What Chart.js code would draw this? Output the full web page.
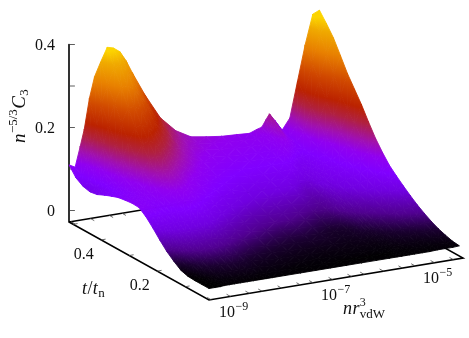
<!DOCTYPE html>
<html>
<head>
<meta charset="utf-8">
<script src="https://cdn.jsdelivr.net/npm/chart.js@4"></script>
<style>
  html, body { margin: 0; padding: 0; background: #fff; }
  canvas { display: block; }
</style>
</head>
<body>
<canvas id="myChart" width="469" height="338"></canvas>
<script>
// values
const T_ROWS = [0.515, 0.49, 0.465, 0.44, 0.415, 0.39, 0.365, 0.34, 0.315, 0.29, 0.265,
  0.24, 0.215, 0.19, 0.165, 0.14, 0.115, 0.09, 0.065, 0.04, 0.015];
const LOG_N = [-9.04, -8.92, -8.82, -8.74, -8.64, -8.54, -8.42, -8.29, -8.17, -8.04, -7.92, -7.8, -7.55, -7.25, -6.95, -6.65,
  -6.35, -6.05, -5.75, -5.5, -5.35, -5.26, -5.18, -5.11, -5.01, -4.86, -4.71, -4.56, -4.41, -4.26, -4.13];
const C3 = [
  [.110, .102, .150, .190, .262, .312, .345, .378, .374, .362, .338, .307, .248, .187, .150, .129, .123, .118, .116, .114, .121, .124, .140, .153, .136, .109, .135, .220, .305, .376, .383],
  [.088, .092, .118, .150, .200, .255, .300, .338, .340, .325, .300, .278, .222, .170, .140, .123, .117, .113, .111, .111, .113, .117, .127, .138, .122, .103, .128, .198, .270, .338, .360],
  [.077, .085, .102, .125, .165, .215, .265, .300, .302, .292, .272, .252, .200, .155, .130, .118, .112, .108, .106, .106, .108, .112, .118, .124, .110, .098, .122, .178, .240, .300, .335],
  [.073, .080, .094, .110, .140, .180, .225, .260, .262, .252, .235, .218, .178, .142, .120, .110, .105, .102, .100, .100, .104, .106, .106, .104, .096, .094, .110, .150, .200, .258, .302],
  [.076, .082, .092, .104, .125, .152, .190, .222, .226, .218, .204, .190, .158, .130, .112, .104, .099, .097, .095, .096, .100, .098, .092, .086, .084, .090, .100, .126, .165, .220, .268],
  [.084, .086, .092, .100, .114, .132, .162, .190, .196, .190, .178, .166, .142, .118, .104, .096, .092, .090, .089, .090, .086, .080, .078, .078, .081, .087, .094, .110, .142, .190, .240],
  [.091, .091, .094, .099, .108, .118, .140, .163, .170, .166, .156, .146, .126, .108, .096, .089, .085, .083, .082, .083, .076, .073, .074, .076, .080, .085, .090, .101, .125, .165, .212],
  [.097, .097, .098, .100, .105, .110, .124, .142, .148, .145, .137, .128, .112, .098, .088, .081, .077, .076, .076, .067, .064, .067, .071, .073, .077, .082, .087, .095, .112, .143, .180],
  [.100, .100, .100, .101, .103, .106, .114, .125, .130, .127, .122, .115, .102, .089, .080, .073, .069, .069, .066, .054, .058, .064, .068, .071, .074, .079, .084, .090, .100, .124, .150],
  [.102, .101, .100, .099, .099, .101, .105, .112, .115, .113, .108, .102, .091, .079, .070, .064, .060, .058, .054, .046, .050, .057, .062, .064, .068, .073, .078, .084, .091, .106, .125],
  [.101, .100, .098, .096, .095, .095, .097, .100, .101, .099, .095, .089, .079, .068, .060, .054, .051, .048, .042, .038, .044, .050, .055, .058, .062, .067, .072, .077, .083, .093, .103],
  [.088, .088, .088, .087, .086, .086, .087, .088, .088, .086, .082, .077, .067, .057, .049, .044, .042, .037, .032, .033, .040, .045, .047, .050, .053, .058, .063, .068, .073, .080, .087],
  [.070, .072, .074, .075, .075, .075, .075, .074, .073, .071, .068, .063, .055, .046, .039, .035, .033, .029, .024, .026, .032, .036, .038, .041, .044, .048, .053, .058, .062, .067, .072],
  [.050, .053, .057, .059, .060, .061, .061, .060, .059, .057, .054, .050, .043, .036, .030, .026, .025, .021, .017, .019, .024, .028, .030, .032, .035, .039, .043, .047, .051, .055, .058],
  [.032, .036, .041, .044, .046, .047, .047, .046, .045, .043, .041, .038, .032, .027, .022, .019, .018, .015, .012, .013, .017, .021, .022, .024, .026, .030, .033, .037, .040, .043, .045],
  [.018, .022, .027, .030, .032, .034, .035, .035, .034, .032, .030, .028, .023, .019, .016, .014, .013, .012, .010, .011, .013, .014, .015, .017, .019, .022, .025, .028, .030, .032, .034],
  [.006, .011, .016, .019, .021, .023, .024, .024, .024, .023, .021, .019, .016, .013, .011, .009, .008, .008, .007, .008, .008, .009, .010, .011, .013, .015, .017, .019, .021, .023, .024],
  [.001, .004, .008, .011, .013, .014, .015, .016, .016, .015, .014, .012, .010, .008, .007, .006, .005, .005, .005, .005, .005, .006, .006, .007, .008, .010, .011, .012, .014, .015, .016],
  [.000, .001, .003, .005, .007, .008, .009, .009, .009, .009, .008, .007, .006, .005, .004, .003, .003, .003, .003, .003, .003, .003, .004, .004, .005, .006, .006, .007, .008, .009, .010],
  [.000, .000, .001, .002, .003, .003, .004, .004, .004, .004, .003, .003, .003, .002, .002, .002, .001, .001, .001, .001, .001, .002, .002, .002, .002, .003, .003, .003, .004, .004, .005],
  [.000, .000, .000, .001, .001, .001, .001, .001, .001, .001, .001, .001, .001, .001, .001, .001, .001, .001, .001, .001, .001, .001, .001, .001, .001, .001, .001, .002, .002, .002, .003],
];
const Z_TICKS = [0, 0.1, 0.2, 0.3, 0.4];
const T_TICKS = [0.1, 0.2, 0.3, 0.4, 0.5];
const N_TICKS = [-9, -8.62, -8.25, -8, -7.62, -7.25, -7, -6.62, -6.25, -6, -5.62, -5.25, -5, -4.62, -4.25];

const PALETTE_Z = [0, 0.015, 0.035, 0.065, 0.09, 0.115, 0.14, 0.175, 0.205, 0.25, 0.3, 0.345, 0.37];
const PALETTE_RGB = [
  [0, 0, 0], [26, 0, 48], [80, 0, 144], [112, 0, 224], [128, 0, 255], [144, 0, 240], [160, 16, 176],
  [176, 32, 64], [187, 34, 0], [208, 72, 0], [232, 128, 0], [240, 170, 0], [252, 212, 0],
];

const SERIF = '"Liberation Serif", serif';
const BASE_Z = -0.0277;
const T_MIN = 0.015, T_MAX = 0.515;
const N_MIN = -9.04, N_MAX = -4.06;

// gnuplot-like fixed view: data -> the chart's flat x/y
function project(t, logN, z) {
  const u = (logN - N_MIN) / (N_MAX - N_MIN);
  const v = (t - T_MIN) / (T_MAX - T_MIN);
  return { x: 209 + 254 * u - 140 * v, y: 288.5 - 42 * u - 78 * v - 415 * z };
}

function paletteColor(z) {
  let i = 0;
  while (i < PALETTE_Z.length - 2 && z > PALETTE_Z[i + 1]) i++;
  const f = Math.min(1, Math.max(0, (z - PALETTE_Z[i]) / (PALETTE_Z[i + 1] - PALETTE_Z[i])));
  const c = PALETTE_RGB[i].map((a, k) => Math.round(a + (PALETTE_RGB[i + 1][k] - a) * f));
  return `rgb(${c[0]},${c[1]},${c[2]})`;
}

// z is linear over a triangle, so one linear gradient along its slope shades it exactly.
// the flat scales run 0..469 and 0..338, so their values are canvas pixels already
function triangleFill(context) {
  const ds = context.dataset;
  const [a, b, c] = ds.data;
  const [za, zb, zc] = ds.heights;
  const det = (b.x - a.x) * (c.y - a.y) - (c.x - a.x) * (b.y - a.y);
  const zMin = Math.min(za, zb, zc), zMax = Math.max(za, zb, zc);
  if (Math.abs(det) < 1e-6 || zMax - zMin < 1e-6) return paletteColor((zMin + zMax) / 2);
  const gx = ((zb - za) * (c.y - a.y) - (zc - za) * (b.y - a.y)) / det;
  const gy = ((b.x - a.x) * (zc - za) - (c.x - a.x) * (zb - za)) / det;
  const g2 = gx * gx + gy * gy;
  const at = z => [a.x + gx * (z - za) / g2, a.y + gy * (z - za) / g2];
  const grad = context.chart.ctx.createLinearGradient(...at(zMin), ...at(zMax));
  grad.addColorStop(0, paletteColor(zMin));
  PALETTE_Z.forEach(z => {
    if (z > zMin && z < zMax) grad.addColorStop((z - zMin) / (zMax - zMin), paletteColor(z));
  });
  grad.addColorStop(1, paletteColor(zMax));
  return grad;
}

function triangle(p, q, r) {
  const pts = [p, q, r].map(k => project(T_ROWS[k[0]], LOG_N[k[1]], C3[k[0]][k[1]]));
  return {
    data: [...pts, pts[0]],
    heights: [p, q, r].map(k => C3[k[0]][k[1]]),
    backgroundColor: triangleFill,
    borderColor: triangleFill,
    borderWidth: 0.9,
    borderDash: [2000], // keeps chart.js off its fast path, which merges points sharing an x pixel
    fill: 'shape',
    pointRadius: 0,
  };
}

function stroke(points, width, color) {
  return { data: points, borderColor: color, borderWidth: width, pointRadius: 0, fill: false, borderCapStyle: 'round' };
}

// painted in this order; chart.js paints the last dataset first, so it gets reversed below
const layers = [];
const cBack = project(T_MAX, N_MIN, BASE_Z), cFront = project(T_MIN, N_MIN, BASE_Z);
const cRight = project(T_MIN, N_MAX, BASE_Z), cFar = project(T_MAX, N_MAX, BASE_Z);
layers.push(stroke([project(T_MAX, N_MIN, 0.4), cBack, cFront, cRight, cFar, cBack], 1.6, '#000'));
Z_TICKS.forEach(z => {
  const p = project(T_MAX, N_MIN, z);
  layers.push(stroke([p, { x: p.x + 5.5, y: p.y }], 0.8, '#333'));
});
N_TICKS.forEach(n => {
  const p = project(T_MIN, n, BASE_Z), q = project(T_MAX, n, BASE_Z);
  layers.push(stroke([p, { x: p.x - 3.5, y: p.y - 2 }], 0.8, '#444'));
  layers.push(stroke([q, { x: q.x + 3.5, y: q.y + 2 }], 0.8, '#444'));
});
T_TICKS.forEach(t => {
  const p = project(t, N_MIN, BASE_Z);
  layers.push(stroke([p, { x: p.x + 4, y: p.y - 0.7 }], 0.8, '#444'));
});
// surface, back row first
for (let i = 0; i < T_ROWS.length - 1; i++) {
  for (let j = 0; j < LOG_N.length - 1; j++) {
    layers.push(triangle([i, j], [i, j + 1], [i + 1, j]));
    layers.push(triangle([i, j + 1], [i + 1, j + 1], [i + 1, j]));
  }
}

// text: runs of {s: string, it: italic, size, rise, stay: do not advance the pen}
const Z_LABELS = [['0', 0], ['0.2', 0.2], ['0.4', 0.4]];
const T_LABELS = [['0.2', 0.2], ['0.4', 0.4]];
const N_LABELS = [['\u22129', -9], ['\u22127', -7], ['\u22125', -5]];
const X_TITLE = [
  { s: 'n', it: true, size: 18 }, { s: 'r', it: true, size: 18 },
  { s: '3', size: 12, rise: 8, stay: true }, { s: 'vdW', size: 13, rise: -4 },
];
const T_TITLE = [
  { s: 't', it: true, size: 18 }, { s: '/', size: 18 }, { s: 't', it: true, size: 18 }, { s: 'n', size: 13, rise: -3 },
];
const Z_TITLE = [
  { s: 'n', it: true, size: 19 }, { s: '\u22125/3', size: 13, rise: 8 },
  { s: 'C', it: true, size: 19 }, { s: '3', size: 13, rise: -3 },
];

function drawRuns(ctx, runs, x, y, angle) {
  ctx.save();
  ctx.translate(x, y);
  ctx.rotate(angle || 0);
  ctx.textAlign = 'left';
  ctx.textBaseline = 'alphabetic';
  ctx.fillStyle = '#111';
  let pen = 0;
  runs.forEach(r => {
    ctx.font = `${r.it ? 'italic ' : ''}${r.size}px ${SERIF}`;
    ctx.fillText(r.s, pen, -(r.rise || 0));
    if (!r.stay) pen += ctx.measureText(r.s).width + 0.4;
  });
  ctx.restore();
}

const axisText = {
  id: 'axisText',
  afterDraw(chart) {
    const ctx = chart.ctx;
    const sx = chart.scales.x, sy = chart.scales.y;
    const px = p => ({ x: sx.getPixelForValue(p.x), y: sy.getPixelForValue(p.y) });
    Z_LABELS.forEach(([s, z]) => {
      const p = px(project(T_MAX, N_MIN, z));
      ctx.font = `16px ${SERIF}`;
      const w = ctx.measureText(s).width;
      drawRuns(ctx, [{ s, size: 16 }], p.x - 14 - w, p.y + 5.5);
    });
    T_LABELS.forEach(([s, t]) => {
      const p = px(project(t, N_MIN, BASE_Z));
      drawRuns(ctx, [{ s, size: 16 }], p.x - 27.5, p.y + 19);
    });
    N_LABELS.forEach(([s, n]) => {
      const p = px(project(T_MIN, n, BASE_Z));
      drawRuns(ctx, [{ s: '10', size: 16 }, { s, size: 12, rise: 7.5 }], p.x + 8, p.y + 17.5);
    });
    drawRuns(ctx, X_TITLE, 343, 314);
    drawRuns(ctx, T_TITLE, 82, 294);
    drawRuns(ctx, Z_TITLE, 25, 143, -Math.PI / 2);
  },
};

const config = {
  type: 'scatter',
  data: { datasets: layers.map(d => ({ ...d, showLine: true })).reverse() },
  options: {
    responsive: false,
    animation: false,
    events: [],
    layout: { padding: 0 },
    scales: {
      x: { type: 'linear', min: 0, max: 469, display: false },
      y: { type: 'linear', min: 0, max: 338, reverse: true, display: false },
    },
    plugins: { legend: { display: false }, tooltip: { enabled: false } },
  },
  plugins: [axisText],
};

const myChart = new Chart(document.getElementById('myChart'), config);
</script>
</body>
</html>
